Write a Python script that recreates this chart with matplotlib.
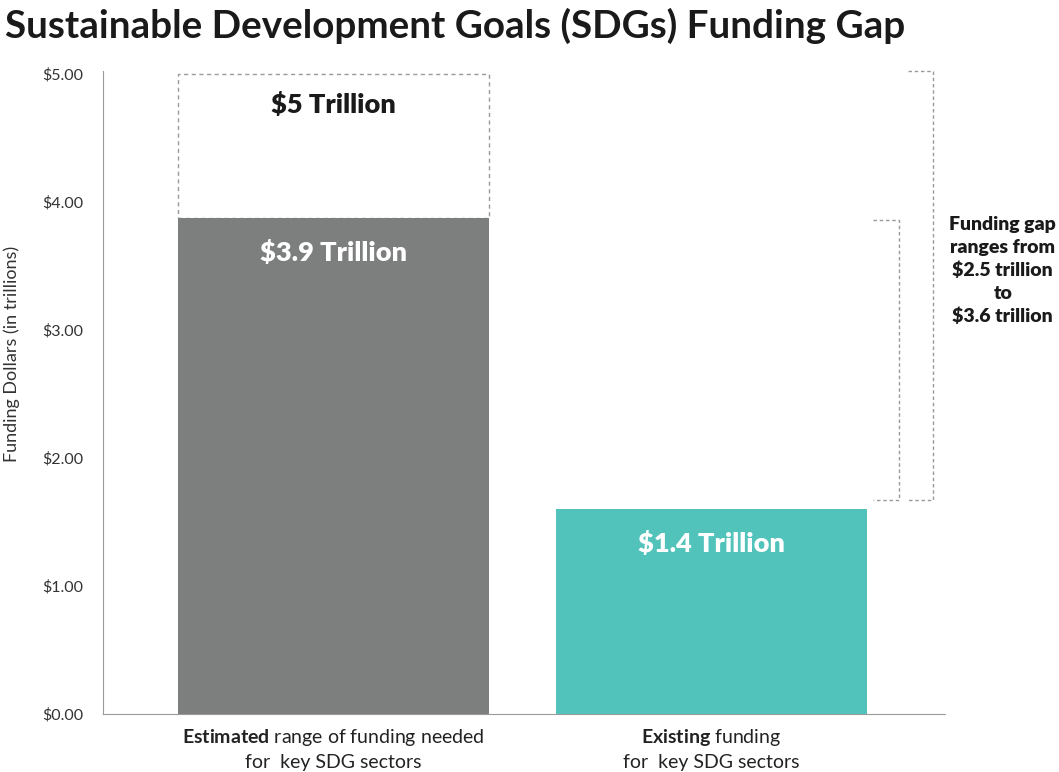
import matplotlib
matplotlib.use("Agg")
import matplotlib.pyplot as plt

# ---------- DATA ----------
positions = [0, 1]
bar_values = [3.87, 1.60]           # drawn bar heights (trillions)
bar_colors = ["#7d7f7e", "#52c3bb"]
bar_labels = ["$3.9 Trillion", "$1.4 Trillion"]
upper_estimate = 5.0                # dashed box on top of first bar
upper_label = "$5 Trillion"
gap_low = 1.67                      # bottom of the two brackets
gap_inner_top = 3.86
gap_outer_top = 5.02
yticks = [0, 1, 2, 3, 4, 5]
ytick_labels = ["$0.00", "$1.00", "$2.00", "$3.00", "$4.00", "$5.00"]
xlabel_bold = ["Estimated", "Existing"]
xlabel_rest = [" range of funding needed", " funding"]
xlabel_line2 = ["for  key SDG sectors", "for  key SDG sectors"]
# --------------------------

plt.rcParams['font.family'] = ['Lato', 'DejaVu Sans']
plt.rcParams['mathtext.fontset'] = 'custom'
plt.rcParams['mathtext.bf'] = 'Lato:bold'
plt.rcParams['mathtext.rm'] = 'Lato'

fig = plt.figure(figsize=(10.59, 7.72), dpi=100)
ax = fig.add_axes([0.0973, 0.0751, 0.795, 0.833])

bw = 0.823
ax.bar(positions, bar_values, width=bw, color=bar_colors, zorder=2)
# dashed box for the upper estimate
ax.bar(positions[0], upper_estimate - bar_values[0], bottom=bar_values[0], width=bw,
       fill=False, edgecolor="#999999", linestyle=(0, (3, 2.5)), linewidth=1.0, zorder=1)

ax.text(positions[0], 4.76, upper_label, ha="center", va="center",
        fontsize=19.5, fontweight="heavy", color="#1a1a1a")
for x, v, lab in zip(positions, bar_values, bar_labels):
    ax.text(x, v - 0.27, lab, ha="center", va="center", fontsize=19.5,
            fontweight="heavy", color="white", zorder=3)

# brackets showing the funding gap range
dash = dict(color="#999999", linestyle=(0, (2.5, 2)), linewidth=1.0, clip_on=False)
xi0, xi1 = 1.427, 1.496
ax.plot([xi0, xi1, xi1, xi0], [gap_inner_top, gap_inner_top, gap_low, gap_low], **dash)
xo0, xo1 = 1.52, 1.586
ax.plot([xo0, xo1, xo1, xo0], [gap_outer_top, gap_outer_top, gap_low, gap_low], **dash)
ax.text(1.771, 3.46, "Funding gap\nranges from\n$2.5 trillion\nto\n$3.6 trillion",
        ha="center", va="center", fontsize=14, fontweight="heavy", color="#1a1a1a",
        linespacing=1.4)

ax.set_xlim(-0.61, 1.618)
ax.set_ylim(0, 5.02)
ax.set_yticks(yticks)
ax.set_yticklabels(ytick_labels, fontsize=11.5, color="#333333")
ax.tick_params(axis="y", length=0, pad=14)
ax.set_xticks([])
ax.set_ylabel("Funding Dollars (in trillions)", fontsize=13, color="#333333")
ax.yaxis.set_label_coords(-0.099, 0.56)

for s in ["top", "right"]:
    ax.spines[s].set_visible(False)
ax.spines["left"].set_color("#9a9a9a")
ax.spines["bottom"].set_color("#9a9a9a")

for x, b, r, l2 in zip(positions, xlabel_bold, xlabel_rest, xlabel_line2):
    ax.text(x, -0.18, r"$\bf{" + b + "}$" + r, ha="center", va="center",
            fontsize=14, color="#222222")
    ax.text(x, -0.38, l2, ha="center", va="center", fontsize=14, color="#222222")

fig.text(0.005, 0.967, "Sustainable Development Goals (SDGs) Funding Gap",
         ha="left", va="center", fontsize=27.8, fontweight="bold", color="#1a1a1a")

fig.savefig("out.png", dpi=100)
